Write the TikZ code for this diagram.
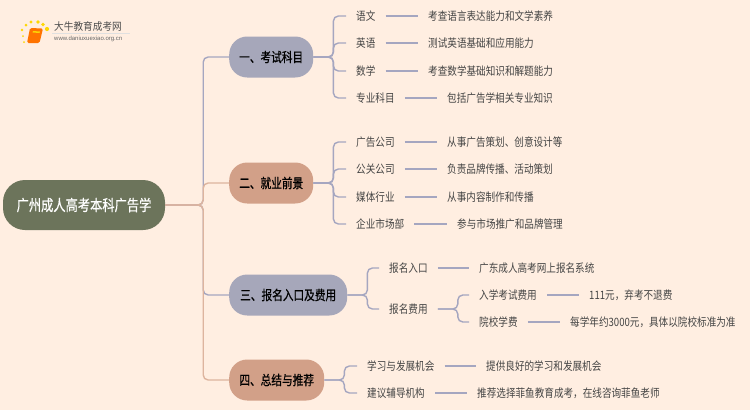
\documentclass[tikz,border=0pt]{standalone}
\usepackage{fontspec}
\setmainfont{Noto Sans CJK SC}[FakeStretch=0.835]
\newfontfamily\boldcjk{Noto Sans CJK SC}[FakeStretch=0.79,FakeBold=0.6]
\newfontfamily\logocjk{Noto Sans CJK SC}[FakeStretch=0.92]
\setsansfont{Liberation Sans}
\usetikzlibrary{positioning}
\definecolor{pagebg}{HTML}{FFEEE1}
\definecolor{rootgreen}{HTML}{6C745B}
\definecolor{lavbox}{HTML}{A6A7BA}
\definecolor{tanbox}{HTML}{D2A088}
\definecolor{lavline}{HTML}{A5A6C0}
\definecolor{tanline}{HTML}{DDB49E}
\definecolor{leaftext}{HTML}{444444}

\begin{document}
\begin{tikzpicture}[
        x=1pt, y=-1pt,
        rootbox/.style={draw=none, fill=rootgreen, rounded corners=22pt, minimum width=162pt, minimum height=50pt, font=\boldcjk\fontsize{15.5}{18}\selectfont, text=white},
        headbox/.style={draw=none, rounded corners=18pt, minimum height=41pt, inner xsep=9pt, font=\boldcjk\fontsize{13.5}{16}\selectfont, text=black, anchor=west},
        leaf/.style={font=\fontsize{11.5}{14}\selectfont, text=leaftext, inner xsep=10pt, inner ysep=1pt, anchor=west},
        lav/.style={draw=lavline, line width=1.4pt, rounded corners=5pt},
        tan/.style={draw=tanline, line width=1.4pt, rounded corners=5pt},
        elbow/.style={to path={(\tikztostart) -- ++(#1,0) |- (\tikztotarget)}},
        elbow/.default=20
    ]

    \useasboundingbox (0,0) rectangle (750,410);
    \fill[pagebg] (0,0) rectangle (750,410);

    % Logo top left
    \foreach \x/\y/\r in {23/36/1, 22/30/1.3, 26/25/1.5, 31/22/1.7, 38/22/1.8, 43/24.5/1.9, 47/29/2.1, 24/42/1}
        \fill[yellow!75!orange] (\x,\y) circle (\r);
    \fill[orange!90!red, rounded corners=1.5pt] (30,28) -- (43,28.5) -- (39.5,43) -- (27,43) -- cycle;
    \fill[yellow!70!orange] (33,31) -- (40,31.5) -- (39.5,33) -- (32.5,32.5) -- cycle;
    \node[font=\logocjk\fontsize{10.5}{12}\selectfont, text=black!70, inner sep=0pt, anchor=west] (logotext) at (54,27) {大牛教育成考网};
    \node[font=\sffamily\fontsize{6}{8}\selectfont, text=black!60, inner sep=0pt, anchor=west] (logourl) at (54,39) {www.daniuxuexiao.org.cn};
    \draw[black!12, line width=0.6pt] (52,33.5) -- (130,33.5);

    % Root and the four heads
    \node[rootbox] (root) at (84,205) {广州成人高考本科广告学};
    \node[headbox, fill=lavbox, minimum width=84pt] (h1) at (229,57) {一、考试科目};
    \node[headbox, fill=tanbox, minimum width=84pt] (h2) at (229,183) {二、就业前景};
    \node[headbox, fill=lavbox, minimum width=118pt] (h3) at (229,295) {三、报名入口及费用};
    \node[headbox, fill=tanbox, minimum width=95pt] (h4) at (229,380) {四、总结与推荐};

    % Trunk
    \draw[lav] (root.east) to[elbow=38] (h1.west);
    \draw[lav] (root.east) to[elbow=38] (h3.west);
    \draw[tan] (root.east) to[elbow=38] (h2.west);
    \draw[tan] (root.east) to[elbow=38] (h4.west);

    % Leaves: name/head/y/label/x of detail/detail
    \foreach \n/\h/\y/\lab/\dx/\dtl in {
        a/h1/16/语文/418/考查语言表达能力和文学素养,
        b/h1/43/英语/418/测试英语基础和应用能力,
        c/h1/71/数学/418/考查数学基础知识和解题能力,
        d/h1/98/专业科目/437/包括广告学相关专业知识,
        e/h2/142/广告公司/437/从事广告策划、创意设计等,
        f/h2/169/公关公司/437/负责品牌传播、活动策划,
        g/h2/197/媒体行业/437/从事内容制作和传播,
        i/h2/224/企业市场部/447/参与市场推广和品牌管理}
    {
        \node[leaf] (\n) at (346,\y) {\lab};
        \node[leaf] (\n x) at (\dx,\y) {\dtl};
        \draw[lav] (\h.east) to[elbow] (\n.west);
        \draw[lav] (\n.east) -- (\n x.west);
    }

    % Entry and fees
    \node[leaf] (j) at (379,268) {报名入口};
    \node[leaf] (jx) at (469,268) {广东成人高考网上报名系统};
    \node[leaf] (k) at (379,309) {报名费用};
    \node[leaf] (m) at (469,295) {入学考试费用};
    \node[leaf] (mx) at (579,295) {111元，弃考不退费};
    \node[leaf] (p) at (469,322) {院校学费};
    \node[leaf] (px) at (560,322) {每学年约3000元，具体以院校标准为准};
    \draw[lav] (h3.east) to[elbow] (j.west);
    \draw[lav] (h3.east) to[elbow] (k.west);
    \draw[lav] (j.east) -- (jx.west);
    \draw[lav] (k.east) to[elbow] (m.west);
    \draw[lav] (k.east) to[elbow] (p.west);
    \draw[lav] (m.east) -- (mx.west);
    \draw[lav] (p.east) -- (px.west);

    % Summary
    \node[leaf] (q) at (357,366) {学习与发展机会};
    \node[leaf] (qx) at (476,366) {提供良好的学习和发展机会};
    \node[leaf] (r) at (357,393) {建议辅导机构};
    \node[leaf] (rx) at (467,393) {推荐选择菲鱼教育成考，在线咨询菲鱼老师};
    \draw[lav] (h4.east) to[elbow] (q.west);
    \draw[lav] (h4.east) to[elbow] (r.west);
    \draw[lav] (q.east) -- (qx.west);
    \draw[lav] (r.east) -- (rx.west);

\end{tikzpicture}
\end{document}
